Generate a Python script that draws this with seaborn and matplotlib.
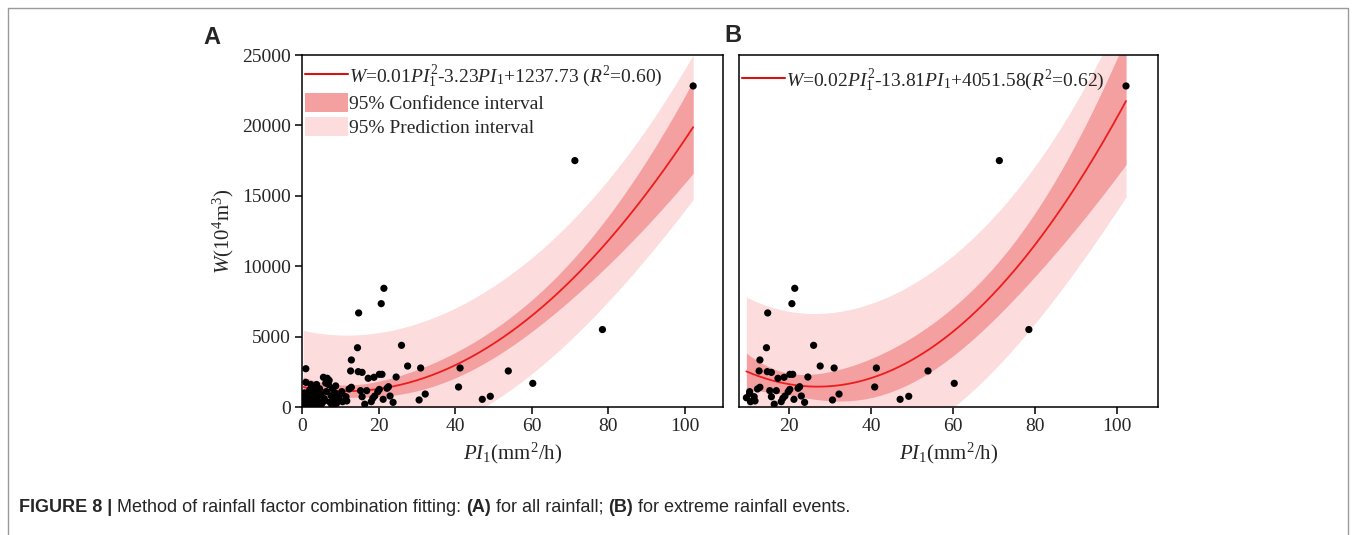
import numpy as np
import pandas as pd
import matplotlib
matplotlib.use("Agg")
import matplotlib.pyplot as plt
import seaborn as sns
from matplotlib.patches import Patch
from matplotlib.lines import Line2D

# ---------------- data ----------------
# extreme rainfall events: PI1 (mm^2/h) and W (10^4 m^3)
ext_pi = [21.4, 20.7, 14.8, 14.5, 26.0, 12.9, 27.6, 31.0, 41.3, 53.9, 12.7, 14.7,
          15.7, 17.3, 18.8, 20.2, 20.9, 24.6, 40.9, 32.2, 30.6, 47.1, 49.2, 12.9,
          12.3, 15.3, 16.9, 22.6, 22.2, 20.2, 19.8, 19.0, 18.5, 21.2, 23.0, 23.8,
          15.7, 11.5, 10.4, 9.6, 10.6, 11.7, 18.1, 10.4, 16.4, 60.3, 71.3, 78.5, 102.2]
ext_w = [8430, 7340, 6680, 4210, 4380, 3340, 2910, 2770, 2770, 2560, 2560, 2510,
         2460, 2040, 2110, 2320, 2320, 2130, 1420, 920, 500, 545, 760, 1400,
         1280, 1160, 1160, 1440, 1330, 1250, 1090, 780, 620, 545, 780, 330,
         730, 730, 1090, 660, 380, 430, 380, 970, 200, 1680, 17500, 5500, 22800]
# remaining (non-extreme) rainfall events
oth_pi = [0.3, 0.5, 0.8, 1.0, 1.0, 1.2, 1.5, 1.8, 2.0, 2.3, 2.5, 2.8, 3.0, 3.3,
          3.6, 3.8, 4.0, 4.3, 4.6, 5.0, 5.2, 5.6, 5.8, 6.2, 6.4, 6.6, 6.9, 7.1,
          7.3, 7.6, 8.0, 8.3, 8.6, 9.0, 9.2, 0.6, 1.4, 2.2, 4.8, 6.0, 7.8, 8.8, 3.5]
oth_w = [150, 400, 700, 1750, 2720, 250, 950, 500, 1200, 1600, 300, 800, 550, 1050,
         200, 1600, 700, 400, 1300, 900, 250, 2110, 600, 1700, 1100, 2040, 1600, 1890,
         350, 800, 1300, 500, 1000, 250, 700, 1000, 150, 100, 150, 450, 150, 1500, 1300]

label_A = r"$W$=0.01$PI_1^2$-3.23$PI_1$+1237.73 ($R^2$=0.60)"
label_B = r"$W$=0.02$PI_1^2$-13.81$PI_1$+4051.58($R^2$=0.62)"
xticks_A = [0, 20, 40, 60, 80, 100]
xticks_B = [20, 40, 60, 80, 100]
yticks = [0, 5000, 10000, 15000, 20000, 25000]
caption = [("FIGURE 8 | ", "bold"),
           ("Method of rainfall factor combination fitting: ", "normal"),
           ("(A)", "bold"), (" for all rainfall; ", "normal"),
           ("(B)", "bold"), (" for extreme rainfall events.", "normal")]

# ---------------- style ----------------
sns.set_theme(style="ticks")
plt.rcParams["font.family"] = ["Liberation Serif", "DejaVu Serif"]
plt.rcParams["mathtext.fontset"] = "custom"
plt.rcParams["mathtext.rm"] = "Liberation Serif"
plt.rcParams["mathtext.it"] = "Liberation Serif:italic"
plt.rcParams["mathtext.bf"] = "Liberation Serif:bold"
plt.rcParams["axes.edgecolor"] = "black"
plt.rcParams["axes.linewidth"] = 1.1

RED = "#ee1c1c"
CI_C = "#f4a0a0"
PI_C = "#fcdcdc"

FW, FH = 1356, 535
fig = plt.figure(figsize=(FW / 100, FH / 100), dpi=100)


def ax_rect(l, r, t, b):
    return [l / FW, 1 - b / FH, (r - l) / FW, (b - t) / FH]


axA = fig.add_axes(ax_rect(302, 723, 55, 407))
axB = fig.add_axes(ax_rect(739, 1158, 55, 407))


def t975(df):
    z = 1.959964
    return z + (z**3 + z) / (4 * df) + (5 * z**5 + 16 * z**3 + 3 * z) / (96 * df**2)


def quad_fit(x, y):
    x = np.asarray(x, float)
    y = np.asarray(y, float)
    X = np.column_stack([np.ones_like(x), x, x**2])
    beta = np.linalg.lstsq(X, y, rcond=None)[0]
    n, p = X.shape
    res = y - X @ beta
    s2 = res @ res / (n - p)
    XtXi = np.linalg.inv(X.T @ X)
    xs = np.linspace(x.min(), x.max(), 300)
    Xs = np.column_stack([np.ones_like(xs), xs, xs**2])
    yhat = Xs @ beta
    h = np.einsum("ij,jk,ik->i", Xs, XtXi, Xs)
    t = t975(n - p)
    ci = t * np.sqrt(s2 * h)
    pi = t * np.sqrt(s2 * (1 + h))
    return xs, yhat, ci, pi


def draw_panel(ax, x, y):
    xs, yhat, ci, pi = quad_fit(x, y)
    ax.fill_between(xs, yhat - pi, yhat + pi, color=PI_C, lw=0, zorder=1)
    ax.fill_between(xs, yhat - ci, yhat + ci, color=CI_C, lw=0, zorder=2)
    sns.lineplot(x=xs, y=yhat, color=RED, lw=1.3, ax=ax, zorder=3)
    df = pd.DataFrame({"PI1": x, "W": y})
    sns.scatterplot(data=df, x="PI1", y="W", color="black", s=27,
                    edgecolor="none", ax=ax, zorder=5)
    ax.set_ylim(0, 25000)
    ax.set_xlabel(r"$PI_1$(mm$^2$/h)", fontsize=15, labelpad=4)
    ax.tick_params(axis="both", direction="out", length=5, width=1.1,
                   labelsize=14, color="black", pad=3)


all_pi = oth_pi + ext_pi
all_w = oth_w + ext_w
draw_panel(axA, all_pi, all_w)
draw_panel(axB, ext_pi, ext_w)

axA.set_xlim(0, 110)
axA.set_xticks(xticks_A)
axA.set_yticks(yticks)
axA.set_ylabel(r"$W$(10$^4$m$^3$)", fontsize=15, labelpad=4)

axB.set_xlim(7.8, 110)
axB.set_xticks(xticks_B)
axB.set_yticks(yticks)
axB.set_ylabel("")
axB.tick_params(axis="y", left=False, labelleft=False)

# legends
hA = [Line2D([], [], color="#d41414", lw=1.5),
      Patch(facecolor=CI_C, edgecolor="none"),
      Patch(facecolor=PI_C, edgecolor="none")]
axA.legend(hA, [label_A, "95% Confidence interval", "95% Prediction interval"],
           loc="upper left", bbox_to_anchor=(0.0, 0.985), frameon=False,
           fontsize=14, handlelength=2.2, handleheight=1.15, handletextpad=0.05,
           labelspacing=0.2, borderaxespad=0.0, borderpad=0.15)
axB.legend([Line2D([], [], color="#d41414", lw=1.5)], [label_B],
           loc="upper left", bbox_to_anchor=(0.0, 0.975), frameon=False,
           fontsize=14, handlelength=2.2, handletextpad=0.05,
           borderaxespad=0.0, borderpad=0.15)

# panel letters
sans = ["Liberation Sans", "DejaVu Sans"]
fig.text(203 / FW, 1 - 44 / FH, "A", fontsize=17, fontweight="bold",
         family=sans, va="baseline", ha="left")
fig.text(724 / FW, 1 - 42 / FH, "B", fontsize=17, fontweight="bold",
         family=sans, va="baseline", ha="left")

# caption
renderer = fig.canvas.get_renderer()
xpos = 19
for txt, wt in caption:
    t = fig.text(xpos / FW, 1 - 512 / FH, txt, fontsize=13, fontweight=wt,
                 family=sans, va="baseline", ha="left")
    xpos += t.get_window_extent(renderer).width

# outer frame (top, left, right edges; bottom lies outside the picture)
fx = [8 / FW, 8 / FW, 1348 / FW, 1348 / FW]
fy = [0.0, 1 - 8 / FH, 1 - 8 / FH, 0.0]
fig.add_artist(Line2D(fx, fy, transform=fig.transFigure, color="#9a9a9a", lw=1.0))

fig.savefig("out.png", dpi=100)
